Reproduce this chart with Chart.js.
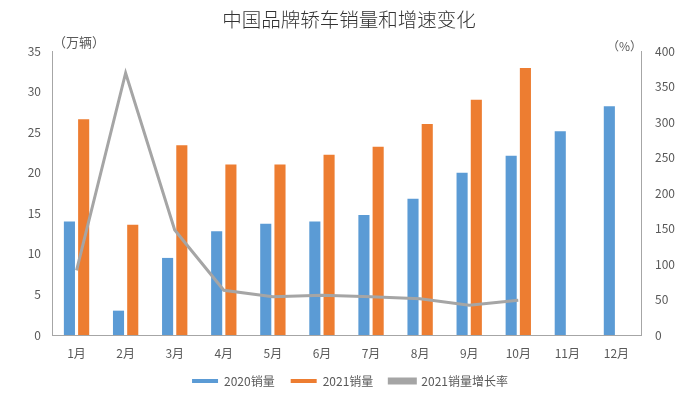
<!DOCTYPE html>
<html>
<head>
<meta charset="utf-8">
<script src="https://cdn.jsdelivr.net/npm/chart.js@4/dist/chart.umd.min.js"></script>
<style>
  html, body { margin: 0; padding: 0; background: #fff; }
  #wrap { width: 700px; height: 393px; }
</style>
</head>
<body>
<div id="wrap"><canvas id="chart"></canvas></div>
<script>
// data
const months = ['1月', '2月', '3月', '4月', '5月', '6月', '7月', '8月', '9月', '10月', '11月', '12月'];
const sales2020 = [14.0, 3.0, 9.5, 12.8, 13.7, 14.0, 14.8, 16.8, 20.0, 22.1, 25.1, 28.2];
const sales2021 = [26.6, 13.6, 23.4, 21.0, 21.0, 22.2, 23.2, 26.0, 29.0, 32.9, null, null];
const growth2021 = [91, 369, 148, 63, 54, 56, 54, 51, 42, 49, null, null];
const leftTicks = [0, 5, 10, 15, 20, 25, 30, 35];
const rightTicks = [0, 50, 100, 150, 200, 250, 300, 350, 400];

const textColor = '#595959';
const fontFamily = '"Noto Sans CJK SC", "Noto Sans", sans-serif';

// title and unit labels
const extraText = {
  id: 'extraText',
  afterDraw(chart) {
    const ctx = chart.ctx;
    const area = chart.chartArea;
    ctx.save();
    ctx.fillStyle = '#333';
    ctx.font = '300 19.5px ' + fontFamily;
    ctx.textAlign = 'center';
    ctx.textBaseline = 'middle';
    ctx.fillText('中国品牌轿车销量和增速变化', 349, 20);
    ctx.fillStyle = textColor;
    ctx.font = '13px ' + fontFamily;
    ctx.textAlign = 'left';
    ctx.fillText('（万辆）', area.left + 1, 42);
    ctx.font = '12px ' + fontFamily;
    ctx.textAlign = 'right';
    ctx.fillText('（%）', area.right + 1, 46);
    ctx.restore();
  }
};

new Chart(document.getElementById('chart'), {
  data: {
    labels: months,
    datasets: [
      {
        type: 'line',
        label: '2021销量增长率',
        data: growth2021,
        yAxisID: 'y1',
        borderColor: '#a5a5a5',
        backgroundColor: '#a5a5a5',
        borderWidth: 3,
        pointRadius: 0,
        tension: 0,
        order: 0
      },
      {
        type: 'bar',
        label: '2020销量',
        data: sales2020,
        yAxisID: 'y',
        backgroundColor: '#5b9bd5',
        categoryPercentage: 0.58,
        barPercentage: 0.78,
        order: 1
      },
      {
        type: 'bar',
        label: '2021销量',
        data: sales2021,
        yAxisID: 'y',
        backgroundColor: '#ed7d31',
        categoryPercentage: 0.58,
        barPercentage: 0.78,
        order: 1
      }
    ]
  },
  options: {
    responsive: true,
    maintainAspectRatio: false,
    animation: false,
    layout: { padding: { top: 51, right: 0, left: 0, bottom: -4 } },
    plugins: {
      title: { display: false },
      tooltip: { enabled: false },
      legend: {
        position: 'bottom',
        labels: {
          color: textColor,
          font: { family: fontFamily, size: 12 },
          boxWidth: 26,
          boxHeight: 4,
          padding: 16,
          sort: (a, b) => (a.datasetIndex === 0) - (b.datasetIndex === 0)
        }
      }
    },
    scales: {
      x: {
        grid: { display: false },
        border: { color: '#a6a6a6' },
        ticks: { color: textColor, font: { family: fontFamily, size: 12 }, maxRotation: 0, padding: 3 },
        afterFit(scale) { scale.height = 24; }
      },
      y: {
        position: 'left',
        min: 0,
        max: 35,
        afterBuildTicks(scale) { scale.ticks = leftTicks.map(v => ({ value: v })); },
        grid: { display: false },
        border: { color: '#a6a6a6' },
        ticks: { color: textColor, font: { family: fontFamily, size: 12 }, padding: 3 },
        afterFit(scale) { scale.width = 52; }
      },
      y1: {
        position: 'right',
        min: 0,
        max: 400,
        afterBuildTicks(scale) { scale.ticks = rightTicks.map(v => ({ value: v })); },
        grid: { display: false },
        border: { color: '#a6a6a6' },
        ticks: { color: textColor, font: { family: fontFamily, size: 12 }, padding: 6 },
        afterFit(scale) { scale.width = 59; }
      }
    }
  },
  plugins: [extraText]
});
</script>
</body>
</html>
